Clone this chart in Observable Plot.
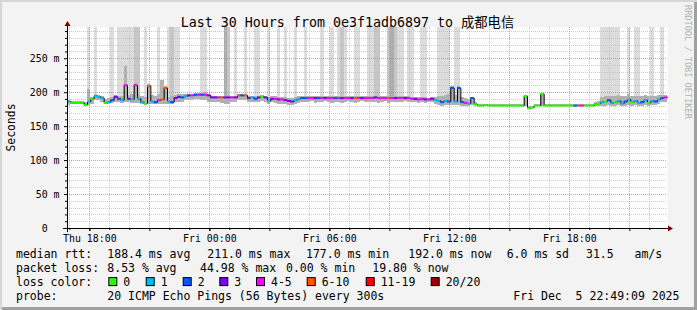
<!DOCTYPE html>
<html>
<head>
<meta charset="utf-8">
<script src="https://cdn.jsdelivr.net/npm/d3@7"></script>
<script src="https://cdn.jsdelivr.net/npm/@observablehq/plot@0.6"></script>
<style>
  html, body { margin: 0; padding: 0; background: #ffffff; }
  #wrap { position: relative; width: 697px; height: 310px; background: #f3f3f3;
          box-shadow: inset 2px 2px 0 #d6d6d6, inset -3px -3px 0 #a0a0a0; overflow: hidden; }
  #wrap svg { position: absolute; left: 0; top: 0; }
  #wrap svg text { white-space: pre; }
</style>
</head>
<body>
<div id="wrap"></div>
<script>
// ---------- data (10-minute steps, Thu 16:53 .. Fri 22:53) ----------
const startHour = 16 + 53 / 60;       // hours since Thu 00:00
const stepHours = 10 / 60;

const median = [
  187,185,185,185,185,182,187,191,195,194,
  192,185,186,189,194,191,189,211,191,190,
  211,191,186,184,210,187,186,189,190,207,
  187,186,192,194,193,195,196,196,197,197,
  197,197,196,193,193,193,193,193,193,193,
  193,196,196,196,192,193,191,193,194,193,
  188,191,191,190,190,189,188,187,189,191,
  192,192,192,192,192,192,192,192,192,192,
  192,192,192,192,192,192,192,192,192,192,
  192,192,193,192,192,192,192,192,192,192,
  192,192,192,191,191,190,191,190,190,191,
  189,188,186,188,187,207,187,207,186,185,
  184,192,183,181,181,182,181,181,181,181,
  181,181,181,181,181,181,181,195,177,178,
  181,181,198,181,181,181,181,181,181,181,
  181,181,181,181,181,181,181,181,183,184,
  186,187,189,185,186,188,184,187,190,186,
  188,185,186,189,185,188,187,190,192,193
];

// loss category index into lossLabels
const loss = [
  1,0,0,0,0,0,1,0,1,1,
  1,0,1,2,3,2,1,4,3,1,
  4,1,1,0,5,1,2,4,5,5,
  1,2,3,3,2,1,3,4,2,4,
  2,4,3,3,3,4,5,3,3,4,
  3,5,2,5,3,1,2,3,0,3,
  1,3,4,3,4,3,3,3,1,1,
  2,2,4,4,3,2,4,3,4,4,
  2,4,3,4,4,3,5,4,3,4,
  4,4,3,4,4,4,5,4,3,4,
  4,3,4,4,3,4,4,3,4,3,
  1,1,2,1,2,2,1,2,2,4,
  1,2,0,0,0,0,0,0,0,0,
  0,0,0,0,0,0,0,0,0,0,
  0,0,0,0,0,0,0,0,0,0,
  0,0,2,5,4,0,0,0,0,0,
  1,0,2,1,0,1,1,2,1,0,
  1,1,2,1,0,1,2,1,2,4
];

const smokeLo = [
  181,183,183,183,182,179,181,183,188,188,
  186,182,183,184,186,185,184,185,185,184,
  184,184,182,181,182,183,182,183,183,183,
  183,183,185,186,186,188,188,189,190,190,
  188,188,186,186,186,185,184,183,183,186,
  186,189,189,189,186,186,185,186,187,186,
  183,185,184,183,183,182,181,181,182,184,
  185,185,186,187,184,186,185,187,186,184,
  186,185,184,186,187,186,184,185,187,186,
  185,186,185,184,186,187,184,185,186,186,
  185,187,186,185,186,184,185,184,185,185,
  183,181,180,181,181,181,181,181,180,180,
  180,181,180,180,180,180,180,180,180,180,
  180,180,180,180,180,180,180,180,176,177,
  180,180,180,180,180,180,180,180,180,180,
  180,180,180,180,180,180,180,180,180,180,
  180,180,181,180,180,181,180,180,181,180,
  181,180,180,181,180,181,181,183,185,186
];

const smokeHi = [
  189,187,187,187,187,186,204,193,197,196,
  194,190,191,193,196,195,195,238,196,197,
  214,197,194,193,212,196,195,198,218,209,
  193,194,196,197,197,198,198,198,199,199,
  199,200,198,195,195,195,195,196,196,195,
  195,198,198,198,195,195,194,195,196,195,
  193,194,194,193,193,193,192,192,193,194,
  194,194,194,194,194,194,194,194,194,194,
  194,194,194,194,194,194,194,194,194,194,
  194,194,195,194,194,194,194,194,194,194,
  194,194,194,193,193,193,193,193,192,193,
  193,194,195,196,198,209,196,209,193,191,
  190,193,186,182,182,183,182,182,182,182,
  182,182,182,182,182,182,182,196,179,180,
  182,182,199,182,182,182,182,182,182,182,
  182,182,182,182,182,182,182,182,185,187,
  193,194,195,194,195,196,194,195,197,194,
  195,194,195,196,194,195,195,196,196,196
];

// timed-out / very slow pings reaching the top: 0 none, 1 few, 2 more, 3 many
const tallSmoke = [
  0,0,0,0,0,0,1,0,1,0,
  0,0,0,1,0,1,1,1,1,1,
  2,2,0,1,0,0,0,1,0,0,
  1,2,1,1,0,0,0,0,0,0,
  1,1,0,0,0,0,0,3,2,0,
  1,0,0,1,0,0,1,1,0,0,
  1,0,0,1,0,1,0,0,1,0,
  0,1,0,0,0,0,1,0,0,1,
  0,1,2,1,0,0,1,1,0,0,
  1,1,2,2,0,0,2,3,2,1,
  1,0,1,1,0,0,1,1,0,0,
  0,1,1,1,1,0,1,1,0,0,
  0,0,0,0,0,0,0,0,0,0,
  0,0,0,0,0,0,0,0,0,0,
  0,0,0,0,0,0,0,0,0,0,
  0,0,0,0,0,0,0,0,0,0,
  1,1,1,1,1,1,0,0,1,0,
  1,1,0,0,0,1,0,0,1,0
];

const yMaxMs = 296;
const yTicks = [0, 50, 100, 150, 200, 250];
const xLabelHours = [18, 24, 30, 36, 42];
const xTickLabels = ["Thu 18:00", "Fri 00:00", "Fri 06:00", "Fri 12:00", "Fri 18:00"];

const titleText = "Last 30 Hours from 0e3f1adb6897 to 成都电信";
const yLabel = "Seconds";
const sideText = "RRDTOOL / TOBI OETIKER";
const rowLabels = ["median rtt:", "packet loss:", "loss color:", "probe:"];
const rttStats = ["188.4 ms avg", "211.0 ms max", "177.0 ms min", "192.0 ms now", "6.0 ms sd", "31.5   am/s"];
const lossStats = ["8.53 % avg", "44.98 % max", "0.00 % min", "19.80 % now"];
const lossLabels = ["0", "1", "2", "3", "4-5", "6-10", "11-19", "20/20"];
const probeText = "20 ICMP Echo Pings (56 Bytes) every 300s";
const dateText = "Fri Dec  5 22:49:09 2025";

// ---------- styles ----------
const lossColors = ["#26ff00", "#00b8ff", "#0059ff", "#7e00ff", "#ff00ff", "#ff5500", "#ff0000", "#a10000"];
const tallShades = [null, "#dcdcdc", "#c6c6c6", "#acacac"];
const smokeColor = "#b0b0b0";
const mono = "'DejaVu Sans Mono', 'Noto Sans CJK SC', monospace";

// ---------- build ----------
const data = median.map((m, i) => ({
  t0: startHour + i * stepHours,
  t1: startHour + (i + 1) * stepHours,
  median: m, loss: loss[i], lo: smokeLo[i], hi: smokeHi[i], tall: tallSmoke[i]
}));
const lineData = data.map(d => ({t: d.t0, median: d.median}))
  .concat([{t: data[data.length - 1].t1, median: data[data.length - 1].median}]);

const xEnd = startHour + data.length * stepHours;
const hours = d3.range(Math.ceil(startHour), xEnd);
const xMajor = hours.filter(h => h % 3 === 0);
const xMinor = hours.filter(h => h % 3 !== 0);
const yMinor = d3.range(10, yMaxMs, 10).filter(v => v % 50 !== 0);
const yMajorGrid = yTicks.filter(v => v > 0);

const chart = Plot.plot({
  width: 697, height: 310,
  marginLeft: 67, marginRight: 30, marginTop: 27, marginBottom: 82,
  x: {domain: [startHour, xEnd]},
  y: {domain: [0, yMaxMs]},
  color: {type: "identity"},
  style: {fontFamily: mono, fontSize: "9.9px", background: "transparent", color: "#000", overflow: "visible"},
  marks: [
    Plot.frame({fill: "white"}),
    Plot.rect(data.filter(d => d.tall > 0), {
      x1: "t0", x2: "t1", y1: "median", y2: () => yMaxMs,
      fill: d => tallShades[d.tall], shapeRendering: "crispEdges"
    }),
    Plot.rect(data, {x1: "t0", x2: "t1", y1: "lo", y2: "hi", fill: smokeColor, shapeRendering: "crispEdges"}),
    Plot.ruleY(yMinor, {stroke: "#bdbdbd", strokeOpacity: 0.8, strokeDasharray: "1,1", shapeRendering: "crispEdges"}),
    Plot.ruleX(xMinor, {stroke: "#bdbdbd", strokeOpacity: 0.8, strokeDasharray: "1,1", shapeRendering: "crispEdges"}),
    Plot.ruleY(yMajorGrid, {stroke: "#e07a7a", strokeOpacity: 0.8, strokeDasharray: "1,1", shapeRendering: "crispEdges"}),
    Plot.ruleX(xMajor, {stroke: "#e07a7a", strokeOpacity: 0.8, strokeDasharray: "1,1", shapeRendering: "crispEdges"}),
    Plot.line(lineData, {x: "t", y: "median", curve: "step-after", stroke: "#000", strokeWidth: 1}),
    Plot.ruleY(data, {y: "median", x1: "t0", x2: "t1", stroke: d => lossColors[d.loss], strokeWidth: 2}),
    Plot.axisY(yTicks, {tickFormat: d => d === 0 ? "0  " : d + " m", tickSize: 3, tickPadding: 5, fontSize: "9.9px"}),
    Plot.axisY(yMinor, {tickSize: 2, tickFormat: () => ""}),
    Plot.axisX(xMajor, {tickSize: 3, tickFormat: () => ""}),
    Plot.axisX(xMinor, {tickSize: 2, tickFormat: () => ""}),
    Plot.axisX(xLabelHours, {tickFormat: (d, i) => xTickLabels[i], tickSize: 3, tickPadding: 3, fontSize: "9.9px"})
  ]
});

document.getElementById("wrap").appendChild(chart);

// ---------- decorations: axis lines, arrows, texts ----------
const sxScale = chart.scale("x"), syScale = chart.scale("y");
const pxLeft = sxScale.range[0], pxRight = sxScale.range[1];
const pxBottom = syScale.range[0], pxTop = syScale.range[1];
const svgSel = d3.select(chart);
const deco = svgSel.append("g").attr("text-anchor", "start");

deco.append("line").attr("x1", pxLeft - 4).attr("x2", pxRight + 2).attr("y1", pxBottom + 0.5).attr("y2", pxBottom + 0.5)
  .attr("stroke", "#000");
deco.append("path").attr("d", `M${pxRight + 1},${pxBottom - 2.5}L${pxRight + 6},${pxBottom + 0.5}L${pxRight + 1},${pxBottom + 3.5}Z`)
  .attr("fill", "#7f0000");
deco.append("line").attr("x1", pxLeft + 0.5).attr("x2", pxLeft + 0.5).attr("y1", pxBottom + 4).attr("y2", pxTop - 2)
  .attr("stroke", "#000");
deco.append("path").attr("d", `M${pxLeft - 2.5},${pxTop - 1}L${pxLeft + 0.5},${pxTop - 6}L${pxLeft + 3.5},${pxTop - 1}Z`)
  .attr("fill", "#7f0000");

function addText(x, y, s, size, extra = {}) {
  const t = deco.append("text").attr("x", x).attr("y", y).text(s)
    .attr("font-family", mono).attr("font-size", size).attr("fill", extra.fill || "#000")
    .attr("text-anchor", extra.anchor || "start")
    .style("white-space", "pre");
  if (extra.transform) t.attr("transform", extra.transform).attr("x", 0).attr("y", 0);
  return t;
}

// title
addText(347.5, 26.5, titleText, "13.3px", {anchor: "middle"});
// y label
addText(0, 0, yLabel, "11.4px", {anchor: "middle", transform: `translate(15,${(pxTop + pxBottom) / 2}) rotate(-90)`});
// side credit
addText(0, 0, sideText, "8.6px", {fill: "#b4b4b4", transform: "translate(684.5,5) rotate(90)"});

// legend
const legSize = "11.5px";
const rowY = [258.3, 272.2, 286.1, 300];
rowLabels.forEach((s, i) => addText(16, rowY[i], s, legSize));
const rttX = [107.3, 207.3, 306, 408.3, 506.7, 586];
rttStats.forEach((s, i) => addText(rttX[i], rowY[0], s, legSize));
const lossX = [107.3, 200, 286, 372.3];
lossStats.forEach((s, i) => addText(lossX[i], rowY[1], s, legSize));
const boxX = [108.3, 145.7, 182.7, 219.3, 256, 306.7, 365.7, 430.7];
lossLabels.forEach((s, i) => {
  deco.append("rect").attr("x", boxX[i] + 0.5).attr("y", rowY[2] - 8.5).attr("width", 8).attr("height", 8)
    .attr("fill", lossColors[i]).attr("stroke", "#000").attr("stroke-width", 1);
  addText(boxX[i] + 15, rowY[2], s, legSize);
});
addText(107.3, rowY[3], probeText, legSize);
addText(513.3, rowY[3], dateText, legSize);
</script>
</body>
</html>
